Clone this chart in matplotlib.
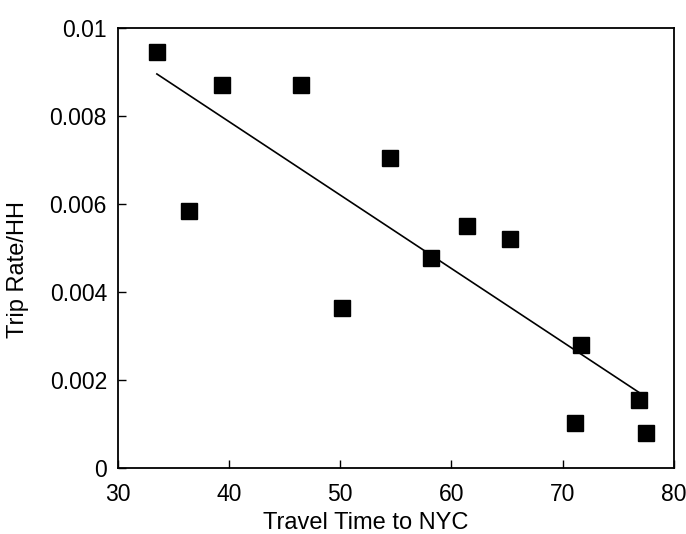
import numpy as np
import matplotlib
matplotlib.use("Agg")
import matplotlib.pyplot as plt

plt.rcParams['font.family'] = ['Liberation Sans', 'DejaVu Sans']

# travel time (min) vs trip rate per household
travel_time = [33.5, 36.4, 39.4, 46.5, 50.2, 54.5, 58.2, 61.4, 65.3, 71.1, 71.7, 76.9, 77.5]
trip_rate = [0.00945, 0.00583, 0.0087, 0.0087, 0.00363, 0.00703, 0.00477, 0.0055, 0.00519,
             0.00101, 0.0028, 0.00153, 0.00078]

# fitted trend line end points
fit_x = [33.5, 76.9]
fit_y = [0.00895, 0.00171]

xticks = [30, 40, 50, 60, 70, 80]
yticks = [0, 0.002, 0.004, 0.006, 0.008, 0.01]
ytick_labels = ['0', '0.002', '0.004', '0.006', '0.008', '0.01']

fig = plt.figure(figsize=(6.86, 5.34), dpi=100)
ax = fig.add_axes([0.172, 0.124, 0.81, 0.824])

ax.plot(fit_x, fit_y, color='black', lw=1.2)
ax.plot(travel_time, trip_rate, 's', color='black', ms=12)

ax.set_xlim(30, 80)
ax.set_ylim(0, 0.01)
ax.set_xticks(xticks)
ax.set_yticks(yticks)
ax.set_yticklabels(ytick_labels)
ax.tick_params(axis='both', direction='in', length=6, width=1, labelsize=16.5, color='black')
ax.tick_params(axis='y', pad=8)
ax.tick_params(axis='x', pad=11)

for s in ax.spines.values():
    s.set_linewidth(1.3)

ax.set_xlabel("Travel Time to NYC", fontsize=17)
ax.set_ylabel("Trip Rate/HH", fontsize=17)
ax.xaxis.set_label_coords(0.446, -0.1)
ax.yaxis.set_label_coords(-0.16, 0.45)

plt.savefig("out.png", dpi=100)
